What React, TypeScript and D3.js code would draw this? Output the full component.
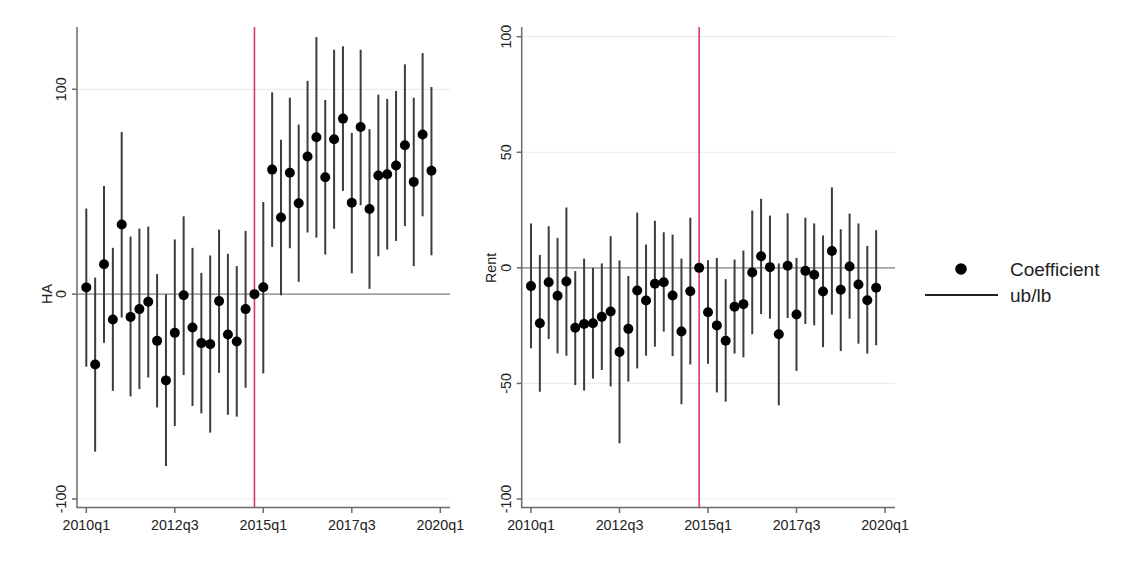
import React from "react";
import * as d3 from "d3";

const quarterTicks = [0, 10, 20, 30, 40];
const quarterLabels = ["2010q1", "2012q3", "2015q1", "2017q3", "2020q1"];
const eventIndex = 19;

const haCoef = [3.3, -34.3, 14.6, -12.4, 34.0, -11.1, -7.3, -3.7, -22.8, -42.1, -18.9, -0.5, -16.3, -23.9, -24.4, -3.4, -19.7, -23.1, -7.3, 0, 3.4, 60.8, 37.4, 59.3, 44.4, 67.2, 76.6, 57.1, 75.6, 85.7, 44.6, 81.6, 41.6, 57.9, 58.5, 62.8, 72.7, 54.8, 77.9, 60.2];
const haUb = [41.8, 8.1, 52.8, 22.6, 79.2, 28.1, 32.0, 33.0, 9.8, 0, 26.7, 38.0, 22.6, 10.4, 18.9, 31.5, 19.7, 13.7, 30.9, null, 45.0, 98.5, 75.4, 95.9, 82.8, 104.1, 125.5, 94.8, 119.3, 121.0, 78.7, 119.3, 80.5, 97.4, 95.3, 99.2, 112.2, 95.9, 117.7, 101.1];
const haLb = [-35.4, -76.9, -23.7, -47.2, -11.4, -49.9, -46.3, -40.7, -55.3, -83.9, -64.4, -39.5, -54.6, -58.2, -67.6, -38.4, -58.9, -59.8, -45.7, null, -38.7, 23.1, -0.5, 22.4, 6.0, 30.1, 27.6, 19.3, 31.9, 50.4, 10.2, 43.4, 2.6, 18.5, 21.8, 26.0, 33.2, 13.7, 38.0, 19.0];

const rentCoef = [-7.9, -24.0, -6.2, -12.1, -5.9, -25.9, -24.3, -24.0, -21.2, -18.9, -36.4, -26.4, -9.8, -14.1, -6.9, -6.2, -12.0, -27.5, -10.1, 0, -19.2, -24.9, -31.5, -16.8, -15.7, -2.0, 5.0, 0.3, -28.7, 0.9, -20.2, -1.3, -3.0, -10.2, 7.3, -9.5, 0.6, -7.2, -14.0, -8.6];
const rentUb = [19.2, 5.6, 18.0, 13.0, 26.1, -1.4, 4.0, 0, 1.9, 13.7, 3.2, -3.5, 23.9, 10.1, 20.4, 15.4, 14.4, 4.0, 21.7, null, 3.3, 4.3, -4.9, 3.6, 7.5, 24.8, 29.9, 22.6, 1.9, 23.6, 4.3, 21.7, 19.2, 14.0, 34.8, 16.7, 23.5, 19.2, 9.5, 16.3];
const rentLb = [-34.8, -53.6, -30.8, -37.0, -38.0, -50.7, -53.1, -47.9, -44.2, -51.3, -75.9, -49.2, -43.5, -38.0, -34.1, -27.6, -38.2, -59.0, -41.8, null, -41.5, -53.9, -57.9, -37.1, -38.7, -28.7, -20.0, -22.0, -59.5, -21.7, -44.6, -24.3, -24.9, -34.3, -20.2, -36.0, -22.0, -32.8, -37.1, -33.5];

const haTicks = [-100, 0, 100];
const rentTicks = [-100, -50, 0, 50, 100];

const FONT = "'Liberation Sans', Arial, sans-serif";

type PanelProps = {
  coef: number[];
  ub: (number | null)[];
  lb: (number | null)[];
  ticks: number[];
  title: string;
  xRange: [number, number];
  yRange: [number, number];
  left: number;
  right: number;
  top: number;
  bottom: number;
  tickLabelX: number;
  titleX: number;
  titleY: number;
};

function Panel(p: PanelProps) {
  const x = d3.scaleLinear().domain([0, 40]).range(p.xRange);
  const y = d3.scaleLinear().domain([-100, 100]).range(p.yRange);
  const axisColor = "#6a6a6a";
  return (
    <g>
      {p.ticks.map((t) => (
        <line key={"g" + t} x1={p.left} x2={p.right} y1={y(t)} y2={y(t)}
          stroke={t === 0 ? "#a3a3a3" : "#e6eff1"} strokeWidth={t === 0 ? 1.6 : 1.2} />
      ))}
      <line x1={x(eventIndex)} x2={x(eventIndex)} y1={p.top} y2={p.bottom} stroke="#d8386c" strokeWidth={1.6} />
      {p.coef.map((c, i) =>
        p.ub[i] == null || p.lb[i] == null ? null : (
          <line key={"ci" + i} x1={x(i)} x2={x(i)} y1={y(p.ub[i] as number)} y2={y(p.lb[i] as number)}
            stroke="#3c3c3c" strokeWidth={2} />
        )
      )}
      {p.coef.map((c, i) => (
        <circle key={"pt" + i} cx={x(i)} cy={y(c)} r={5} fill="#000" />
      ))}
      <line x1={p.left} x2={p.left} y1={p.top} y2={p.bottom + 0.75} stroke={axisColor} strokeWidth={1.5} />
      <line x1={p.left} x2={p.right} y1={p.bottom} y2={p.bottom} stroke={axisColor} strokeWidth={1.5} />
      {p.ticks.map((t) => (
        <g key={"yt" + t}>
          <line x1={p.left - 5} x2={p.left} y1={y(t)} y2={y(t)} stroke={axisColor} strokeWidth={1.5} />
          <text transform={`translate(${p.tickLabelX},${y(t)}) rotate(-90)`} textAnchor="middle"
            fontSize={14.3} fontFamily={FONT} fill="#222">{t}</text>
        </g>
      ))}
      {quarterTicks.map((q, k) => (
        <g key={"xt" + q}>
          <line x1={x(q)} x2={x(q)} y1={p.bottom} y2={p.bottom + 5.5} stroke={axisColor} strokeWidth={1.5} />
          <text x={x(q)} y={p.bottom + 22} textAnchor="middle" fontSize={14.3} fontFamily={FONT} fill="#222">
            {quarterLabels[k]}
          </text>
        </g>
      ))}
      <text transform={`translate(${p.titleX},${p.titleY}) rotate(-90)`} textAnchor="middle"
        fontSize={14.3} fontFamily={FONT} fill="#222">{p.title}</text>
    </g>
  );
}

export default function App() {
  return (
    <svg width={1134} height={563} style={{ position: "absolute", left: 0, top: 0, background: "#fff" }}>
      <rect x={0} y={0} width={1134} height={563} fill="#fff" />
      <Panel coef={haCoef} ub={haUb} lb={haLb} ticks={haTicks} title="HA"
        xRange={[86.3, 440.3]} yRange={[499, 89.3]} left={77} right={450} top={27} bottom={507.5}
        tickLabelX={66} titleX={52} titleY={294} />
      <Panel coef={rentCoef} ub={rentUb} lb={rentLb} ticks={rentTicks} title="Rent"
        xRange={[531, 885]} yRange={[499, 36.7]} left={521.7} right={895} top={27} bottom={507.5}
        tickLabelX={511} titleX={496} titleY={268} />
      <circle cx={961} cy={269} r={5.8} fill="#000" />
      <text x={1010} y={276} fontSize={19} fontFamily={FONT} fill="#222">Coefficient</text>
      <line x1={925} x2={998} y1={295} y2={295} stroke="#222" strokeWidth={2} />
      <text x={1010} y={302} fontSize={19} fontFamily={FONT} fill="#222">ub/lb</text>
    </svg>
  );
}
